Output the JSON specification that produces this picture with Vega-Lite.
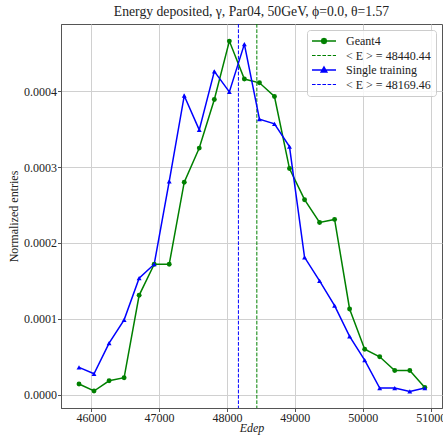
{
  "$schema": "https://vega.github.io/schema/vega-lite/v6.json",
  "width": 381,
  "height": 384,
  "autosize": "none",
  "padding": {"left": 61, "top": 24, "right": 1, "bottom": 27},
  "background": "white",
  "title": {"text": "Energy deposited, γ, Par04, 50GeV, ϕ=0.0, θ=1.57", "font": "Liberation Serif", "fontSize": 13.7, "fontWeight": "normal", "color": "#222", "offset": 5, "anchor": "middle"},
  "datasets": {
    "hist": [
      {"series": "Geant4", "E": 45823, "y": 0.0000141},
      {"series": "Geant4", "E": 46044, "y": 0.0000049},
      {"series": "Geant4", "E": 46266, "y": 0.0000184},
      {"series": "Geant4", "E": 46487, "y": 0.0000224},
      {"series": "Geant4", "E": 46708, "y": 0.000131},
      {"series": "Geant4", "E": 46930, "y": 0.000172},
      {"series": "Geant4", "E": 47151, "y": 0.000172},
      {"series": "Geant4", "E": 47372, "y": 0.000280},
      {"series": "Geant4", "E": 47593, "y": 0.000325},
      {"series": "Geant4", "E": 47815, "y": 0.000389},
      {"series": "Geant4", "E": 48036, "y": 0.000466},
      {"series": "Geant4", "E": 48257, "y": 0.000416},
      {"series": "Geant4", "E": 48479, "y": 0.000411},
      {"series": "Geant4", "E": 48700, "y": 0.000393},
      {"series": "Geant4", "E": 48921, "y": 0.000298},
      {"series": "Geant4", "E": 49143, "y": 0.000257},
      {"series": "Geant4", "E": 49364, "y": 0.000227},
      {"series": "Geant4", "E": 49585, "y": 0.000231},
      {"series": "Geant4", "E": 49806, "y": 0.000113},
      {"series": "Geant4", "E": 50028, "y": 0.0000600},
      {"series": "Geant4", "E": 50249, "y": 0.0000500},
      {"series": "Geant4", "E": 50470, "y": 0.0000320},
      {"series": "Geant4", "E": 50692, "y": 0.0000320},
      {"series": "Geant4", "E": 50913, "y": 0.0000096},
      {"series": "Single training", "E": 45823, "y": 0.0000360},
      {"series": "Single training", "E": 46044, "y": 0.0000276},
      {"series": "Single training", "E": 46266, "y": 0.0000680},
      {"series": "Single training", "E": 46487, "y": 0.0000987},
      {"series": "Single training", "E": 46708, "y": 0.0001535},
      {"series": "Single training", "E": 46930, "y": 0.000172},
      {"series": "Single training", "E": 47151, "y": 0.000281},
      {"series": "Single training", "E": 47372, "y": 0.000394},
      {"series": "Single training", "E": 47593, "y": 0.000349},
      {"series": "Single training", "E": 47815, "y": 0.000426},
      {"series": "Single training", "E": 48036, "y": 0.000399},
      {"series": "Single training", "E": 48257, "y": 0.000462},
      {"series": "Single training", "E": 48479, "y": 0.000363},
      {"series": "Single training", "E": 48700, "y": 0.000357},
      {"series": "Single training", "E": 48921, "y": 0.000327},
      {"series": "Single training", "E": 49143, "y": 0.000181},
      {"series": "Single training", "E": 49364, "y": 0.000150},
      {"series": "Single training", "E": 49585, "y": 0.0001175},
      {"series": "Single training", "E": 49806, "y": 0.0000770},
      {"series": "Single training", "E": 50028, "y": 0.0000457},
      {"series": "Single training", "E": 50249, "y": 0.0000088},
      {"series": "Single training", "E": 50470, "y": 0.0000088},
      {"series": "Single training", "E": 50692, "y": 0.0000044},
      {"series": "Single training", "E": 50913, "y": 0.0000088}
    ],
    "means": [
      {"series": "< E > = 48440.44", "E": 48440.44},
      {"series": "< E > = 48169.46", "E": 48169.46}
    ]
  },
  "encoding": {
    "x": {
      "field": "E", "type": "quantitative",
      "scale": {"domain": [45558, 51166], "nice": false, "zero": false},
      "axis": {
        "values": [46000, 47000, 48000, 49000, 50000, 51000], "format": "d", "title": "Edep", "titleFontStyle": "italic", "titlePadding": -1,
        "encode": {"labels": {"update": {"dx": {"signal": "datum.value == 51000 ? -3 : 0"}}}}
      }
    },
    "color": {
      "field": "series", "type": "nominal",
      "scale": {"domain": ["Geant4", "< E > = 48440.44", "Single training", "< E > = 48169.46"], "range": ["#008000", "#008000", "#0000ff", "#0000ff"]},
      "legend": {
        "orient": "top-right",
        "offset": 6,
        "title": null,
        "padding": 5,
        "symbolOffset": 6,
        "labelOffset": 16,
        "symbolSize": 64,
        "rowPadding": 2.5,
        "fillColor": "rgba(255,255,255,0.8)",
        "strokeColor": "#cccccc",
        "cornerRadius": 3,
        "labelFont": "Liberation Serif",
        "labelFontSize": 12,
        "labelColor": "#222",
        "encode": {
          "symbols": {
            "update": {
              "shape": {"signal": "datum.label == 'Geant4' ? 'M-3,0L3,0M0.63,0L0.45,0.45L0,0.63L-0.45,0.45L-0.63,0L-0.45,-0.45L0,-0.63L0.45,-0.45Z' : (datum.label == 'Single training' ? 'M-3,0L3,0M0,-0.75L0.7,0.5L-0.7,0.5Z' : 'M-3,0L-2.1,0M-1.7,0L-0.8,0M-0.4,0L0.5,0M0.9,0L1.8,0M2.2,0L3,0')"},
              "fill": {"signal": "datum.label == 'Geant4' ? '#008000' : '#0000ff'"},
              "fillOpacity": {"value": 1},
              "strokeWidth": {"signal": "datum.label == 'Geant4' || datum.label == 'Single training' ? 1.5 : 1"}
            }
          }
        }
      }
    }
  },
  "layer": [
    {
      "data": {"name": "means"},
      "mark": {"type": "rule", "strokeWidth": 1, "strokeDash": [3.7, 1.6], "clip": true},
      "encoding": {}
    },
    {
      "data": {"name": "hist"},
      "mark": {"type": "line", "strokeWidth": 1.5},
      "encoding": {
        "y": {
          "field": "y", "type": "quantitative",
          "scale": {"domain": [-0.0000175, 0.0004885], "nice": false, "zero": false},
          "axis": {"values": [0, 0.0001, 0.0002, 0.0003, 0.0004], "format": ".4f", "title": "Normalized entries", "titlePadding": 3}
        }
      }
    },
    {
      "data": {"name": "hist"},
      "mark": {"type": "point", "filled": true, "size": 24, "opacity": 1},
      "encoding": {
        "y": {"field": "y", "type": "quantitative"},
        "shape": {"field": "series", "type": "nominal", "scale": {"domain": ["Geant4", "Single training"], "range": ["circle", "triangle-up"]}, "legend": null}
      }
    }
  ],
  "config": {
    "view": {"stroke": "#555", "strokeWidth": 1},
    "axis": {
      "grid": true,
      "gridColor": "#d0d0d0",
      "gridWidth": 1,
      "domainColor": "#555",
      "tickColor": "#555",
      "tickSize": 3.5,
      "labelFont": "Liberation Serif",
      "labelFontSize": 12,
      "labelColor": "#222",
      "labelPadding": 1,
      "titleFont": "Liberation Serif",
      "titleFontSize": 12,
      "titleFontWeight": "normal",
      "titleColor": "#222"
    }
  }
}
